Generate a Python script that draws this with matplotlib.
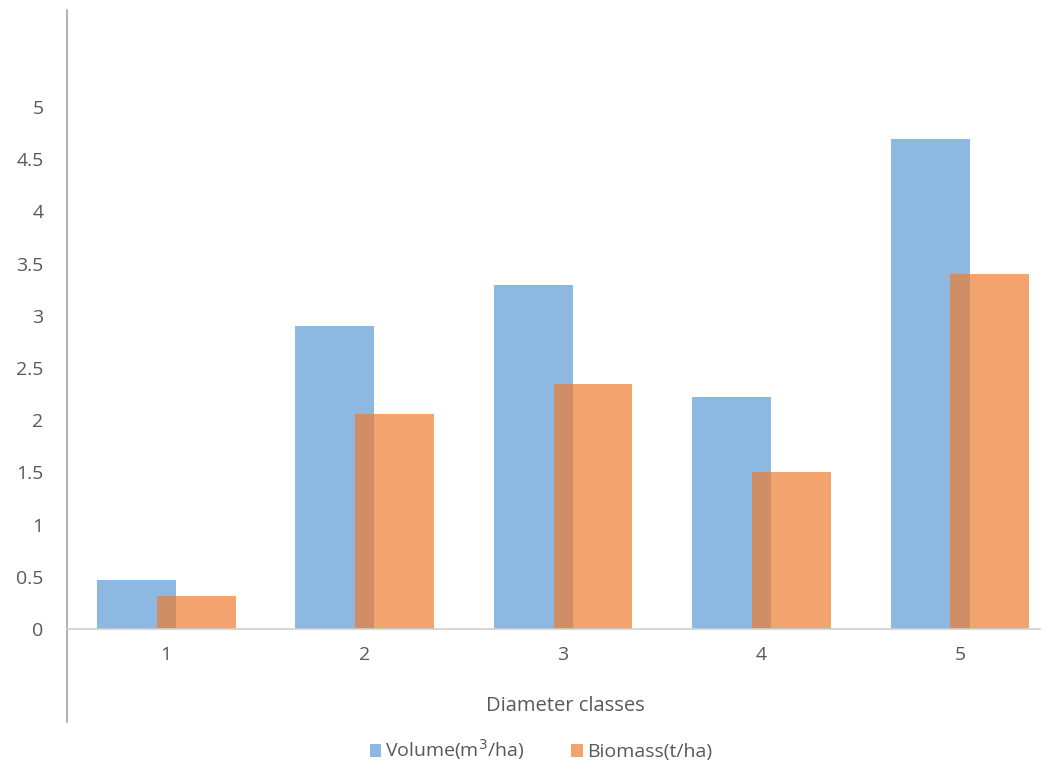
import numpy as np
import matplotlib
matplotlib.use("Agg")
import matplotlib.pyplot as plt

plt.rcParams['font.family'] = ['Open Sans', 'DejaVu Sans']

# Diameter classes and the two series
classes = [1, 2, 3, 4, 5]
volume = [0.47, 2.90, 3.30, 2.22, 4.69]
biomass = [0.32, 2.06, 2.35, 1.50, 3.40]

grey = '#595959'
fs = 14
fig = plt.figure(figsize=(10.55, 7.71), dpi=100)
ax = fig.add_axes([67 / 1055, 1 - 722 / 771, (1040 - 67) / 1055, (722 - 10) / 771])

x = np.array(classes, dtype=float)
w = 0.398
ax.bar(x - 0.151, volume, w, color='#5B9BD5', alpha=0.7, label='Volume(m$^3$/ha)')
ax.bar(x + 0.151, biomass, w, color='#ED7D31', alpha=0.7, label='Biomass(t/ha)')

ax.set_xlim(0.501, 5.403)
ax.set_ylim(-0.891, 5.93)
ax.set_yticks([0, 0.5, 1, 1.5, 2, 2.5, 3, 3.5, 4, 4.5, 5])
ax.set_yticklabels(['0', '0.5', '1', '1.5', '2', '2.5', '3', '3.5', '4', '4.5', '5'])
ax.set_xticks(classes)

ax.spines['top'].set_visible(False)
ax.spines['right'].set_visible(False)
ax.spines['left'].set_color('#a6a6a6')
ax.spines['left'].set_linewidth(1.2)
ax.spines['bottom'].set_position(('data', 0))
ax.spines['bottom'].set_color('#d0d0d0')
ax.spines['bottom'].set_linewidth(1.2)
ax.tick_params(axis='both', length=0, labelsize=fs, labelcolor=grey)
ax.tick_params(axis='y', pad=17)
ax.tick_params(axis='x', pad=12)

label = fig.text(565 / 1055, 1 - 706 / 771, 'Diameter classes', ha='center', va='center',
                 fontsize=fs + 0.5, color=grey)

leg = fig.legend(loc='center', bbox_to_anchor=(541 / 1055, 1 - 750 / 771), ncol=2,
                 frameon=False, fontsize=fs, handlelength=0.6, handleheight=0.6,
                 handletextpad=0.2, columnspacing=2.4)
for t in leg.get_texts():
    t.set_color(grey)

fig.savefig('out.png', dpi=100)
